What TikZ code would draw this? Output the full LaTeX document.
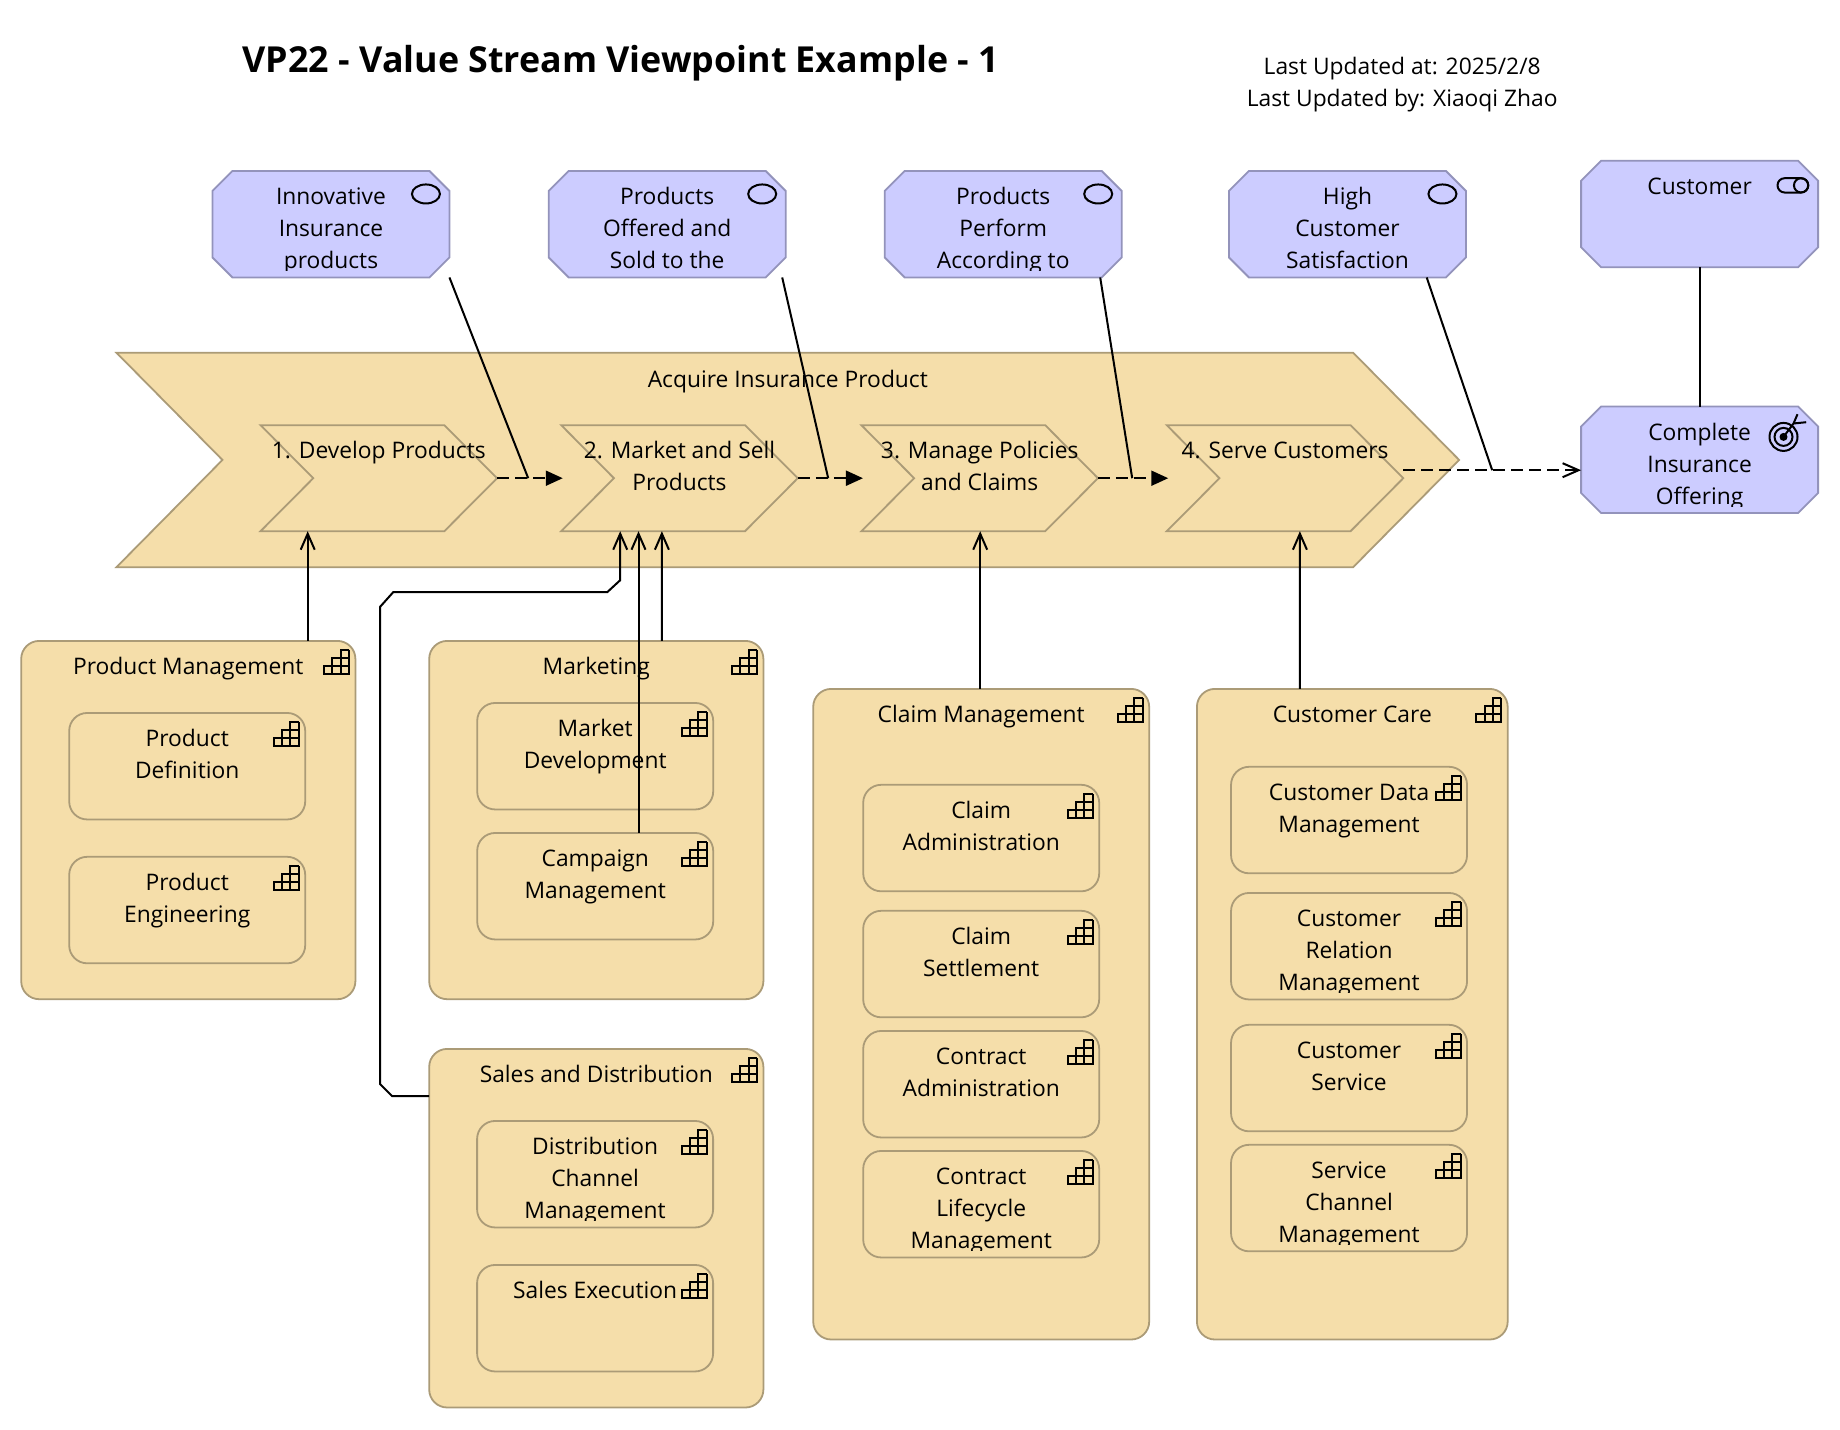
\documentclass[tikz,border=0pt]{standalone}
\usepackage{fontspec}
\setmainfont{Open Sans}
\usetikzlibrary{arrows.meta}
\definecolor{strategy}{HTML}{F5DEAA}
\definecolor{strategyline}{HTML}{AB9B77}
\definecolor{motiv}{HTML}{CCCCFF}
\definecolor{motivline}{HTML}{9393BB}
\tikzset{
    goalbox/.style={rectangle, minimum width=237pt, minimum height=106.5pt, inner sep=0pt, outer sep=0pt},
    goalline/.style={draw=motivline, fill=motiv, line width=1.8pt},
    groupbox/.style={rectangle, rounded corners=18pt, draw=strategyline, fill=strategy, line width=1.8pt, inner sep=0pt, outer sep=0pt},
    capbox/.style={groupbox, minimum width=236pt, minimum height=106.5pt},
    streambox/.style={rectangle, inner sep=0pt, outer sep=0pt},
    streamline/.style={draw=strategyline, fill=strategy, line width=1.8pt},
    lbl/.style={font=\fontsize{22.8}{32}\selectfont, align=center, inner sep=0pt, anchor=north},
    iconline/.style={draw=black, line width=2pt},
    assign/.style={draw=black, line width=2pt},
    serving/.style={assign, -{Straight Barb[length=16pt,width=14pt]}},
    flow/.style={assign, dash pattern=on 12pt off 6pt, -{Triangle[length=17pt,width=15pt]}},
    trigger/.style={assign, dash pattern=on 12pt off 6pt, -{Straight Barb[length=16pt,width=14pt]}},
}
\newcommand{\boxtext}[3][13.3pt]{%
    \begin{scope}
        \clip ([yshift=1pt]#2.north west) rectangle ([yshift=6.5pt]#2.south east);
        \node (#2text) at ([yshift=-#1]#2.north) [lbl] {\rule{0pt}{20pt}#3};
    \end{scope}}
\newcommand{\chevron}[2]{%
    \draw[streamline] (#1.north west) -- ([xshift=-#2]#1.north east) -- (#1.east) -- ([xshift=-#2]#1.south east) -- (#1.south west) -- ([xshift=#2]#1.west) -- cycle;}
\newcommand{\cutcorners}[1]{%
    \draw[goalline] ([xshift=20pt]#1.north west) -- ([xshift=-20pt]#1.north east) -- ([yshift=-20pt]#1.north east) -- ([yshift=20pt]#1.south east) -- ([xshift=-20pt]#1.south east) -- ([xshift=20pt]#1.south west) -- ([yshift=20pt]#1.south west) -- ([yshift=-20pt]#1.north west) -- cycle;}
\newcommand{\funcicon}[1]{%
    \begin{scope}[shift={([xshift=-6.5pt,yshift=-9pt]#1.north east)}]
        \draw[iconline] (0,0) -- (0,24) -- (-25,24) -- (-25,16) -- (0,16) (-16.7,24) -- (-16.7,8) -- (0,8) (-8.3,24) -- (-8.3,0) -- (0,0);
    \end{scope}}
\newcommand{\goalicon}[1]{%
    \draw[iconline] ([xshift=-23.5pt,yshift=-23pt]#1.north east) ellipse [x radius=14, y radius=9.5];}
\begin{document}
\begin{tikzpicture}[x=1pt, y=-1pt, shift={(0.2,0.2)}]
    \useasboundingbox (-0.2,-0.2) rectangle (1839.8,1429.8);

    \node (title) at (620.5,72) [anchor=base, inner sep=0pt, font=\fontsize{35.8}{40}\selectfont\bfseries] {VP22 - Value Stream Viewpoint Example - 1};
    \node (updatedat) at (1402,74) [anchor=base, inner sep=0pt, font=\fontsize{22.8}{32}\selectfont] {Last Updated at: 2025/2/8};
    \node (updatedby) at (1402,106) [anchor=base, inner sep=0pt, font=\fontsize{22.8}{32}\selectfont] {Last Updated by: Xiaoqi Zhao};

    \node (goalA) at (330.75,224) [goalbox] {};
    \node (goalB) at (667,224) [goalbox] {};
    \node (goalC) at (1003,224) [goalbox] {};
    \node (goalD) at (1347.25,224) [goalbox] {};
    \node (customer) at (1699.4,213.85) [goalbox] {};
    \node (complete) at (1699.4,459.6) [goalbox] {};

    \foreach \n in {goalA,goalB,goalC,goalD,customer,complete} {
        \cutcorners{\n}
    }

    \boxtext{goalA}{Innovative\\Insurance\\products}
    \boxtext{goalB}{Products\\Offered and\\Sold to the}
    \boxtext{goalC}{Products\\Perform\\According to}
    \boxtext{goalD}{High\\Customer\\Satisfaction}
    \boxtext{customer}{Customer}
    \boxtext{complete}{Complete\\Insurance\\Offering}

    \goalicon{goalA}
    \goalicon{goalB}
    \goalicon{goalC}
    \goalicon{goalD}

    \draw[iconline, rounded corners=7.1pt] (1777.3,178) rectangle (1808,192.3);
    \draw[iconline] (1800.9,185.15) circle [radius=7.15];

    \draw[iconline] (1783.3,436.7) circle [radius=14];
    \draw[iconline] (1783.3,436.7) circle [radius=9];
    \fill (1783.3,436.7) circle [radius=4];
    \draw[iconline] (1783.3,436.7) -- (1793.3,423.3) (1797.3,414) -- (1793.3,423.3) -- (1806,422);

    \node (stream) at (787.6,459.75) [streambox, minimum width=1342.7pt, minimum height=214.5pt] {};
    \chevron{stream}{106pt}
    \boxtext[14.3pt]{stream}{Acquire Insurance Product}

    \node (streamA) at (378.6,478) [streambox, minimum width=236.5pt, minimum height=106pt] {};
    \node (streamB) at (679.3,478) [streambox, minimum width=236.5pt, minimum height=106pt] {};
    \node (streamC) at (979.5,478) [streambox, minimum width=236.5pt, minimum height=106pt] {};
    \node (streamD) at (1284.8,478) [streambox, minimum width=236.5pt, minimum height=106pt] {};
    \chevron{streamA}{52.7pt}
    \chevron{streamB}{52.7pt}
    \chevron{streamC}{52.7pt}
    \chevron{streamD}{52.7pt}
    \boxtext{streamA}{1. Develop Products}
    \boxtext{streamB}{2. Market and Sell\\Products}
    \boxtext{streamC}{3. Manage Policies\\and Claims}
    \boxtext{streamD}{4. Serve Customers}

    \node (prodmgmt) at (188.1,819.85) [groupbox, minimum width=334.2pt, minimum height=358.3pt] {};
    \node (marketing) at (596.1,819.85) [groupbox, minimum width=334.2pt, minimum height=358.3pt] {};
    \node (sales) at (596.1,1228) [groupbox, minimum width=334.2pt, minimum height=358.6pt] {};
    \node (claims) at (981,1014) [groupbox, minimum width=336pt, minimum height=650.6pt] {};
    \node (care) at (1352.1,1014) [groupbox, minimum width=310.8pt, minimum height=650.6pt] {};

    \node (proddef) at (187,766) [capbox] {};
    \node (prodeng) at (187,909.85) [capbox] {};
    \node (marketdev) at (595,756) [capbox] {};
    \node (campaign) at (595,886) [capbox] {};
    \node (distchannel) at (594.9,1174) [capbox] {};
    \node (salesexec) at (594.9,1318) [capbox] {};
    \node (claimadmin) at (981,837.85) [capbox] {};
    \node (claimsettle) at (981,963.85) [capbox] {};
    \node (contractadmin) at (981,1084) [capbox] {};
    \node (lifecycle) at (981,1204) [capbox] {};
    \node (custdata) at (1348.85,819.85) [capbox] {};
    \node (custrel) at (1348.85,946) [capbox] {};
    \node (custservice) at (1348.85,1077.85) [capbox] {};
    \node (servchannel) at (1348.85,1197.85) [capbox] {};

    \boxtext{prodmgmt}{Product Management}
    \boxtext{marketing}{Marketing}
    \boxtext{sales}{Sales and Distribution}
    \boxtext{claims}{Claim Management}
    \boxtext{care}{Customer Care}
    \boxtext{proddef}{Product\\Definition}
    \boxtext{prodeng}{Product\\Engineering}
    \boxtext{marketdev}{Market\\Development}
    \boxtext{campaign}{Campaign\\Management}
    \boxtext{distchannel}{Distribution\\Channel\\Management}
    \boxtext{salesexec}{Sales Execution}
    \boxtext{claimadmin}{Claim\\Administration}
    \boxtext{claimsettle}{Claim\\Settlement}
    \boxtext{contractadmin}{Contract\\Administration}
    \boxtext{lifecycle}{Contract\\Lifecycle\\Management}
    \boxtext{custdata}{Customer Data\\Management}
    \boxtext{custrel}{Customer\\Relation\\Management}
    \boxtext{custservice}{Customer\\Service}
    \boxtext{servchannel}{Service\\Channel\\Management}

    \foreach \n in {prodmgmt,marketing,sales,claims,care,proddef,prodeng,marketdev,campaign,distchannel,salesexec,claimadmin,claimsettle,contractadmin,lifecycle,custdata,custrel,custservice,servchannel} {
        \funcicon{\n}
    }

    \coordinate (joinA) at (528,478);
    \coordinate (joinB) at (828,478);
    \coordinate (joinC) at (1132,478);
    \coordinate (joinD) at (1492,470);

    \draw[flow] (streamA.east) -- ([xshift=1.5pt]streamB.west);
    \draw[flow] (streamB.east) -- ([xshift=1.5pt]streamC.west);
    \draw[flow] (streamC.east) -- ([xshift=1.5pt]streamD.west);
    \draw[trigger] ([yshift=8pt]streamD.east) -- ([yshift=-10.4pt]complete.west);

    \draw[assign] ([xshift=118.5pt]goalA.south) -- (joinA);
    \draw[assign] ([xshift=115pt]goalB.south) -- (joinB);
    \draw[assign] ([xshift=97pt]goalC.south) -- (joinC);
    \draw[assign] ([xshift=79.25pt]goalD.south) -- (joinD);
    \draw[assign] (customer.south) -- (complete.north);

    \draw[serving] ([xshift=119.4pt]prodmgmt.north) -- ([xshift=-71.1pt]streamA.south);
    \draw[serving] ([xshift=65.6pt]marketing.north) -- ([xshift=-17.6pt]streamB.south);
    \draw[serving] ([xshift=43.3pt]campaign.north) -- ([xshift=-41pt]streamB.south);
    \draw[serving] ([yshift=-47.3pt]sales.north west) -- (392,1096) -- (380,1084) -- (380,606.5) -- (393,592) -- (607,592) -- (620,580) -- ([xshift=-59.3pt]streamB.south);
    \draw[serving] ([xshift=-1pt]claims.north) -- ([xshift=0.5pt]streamC.south);
    \draw[serving] ([xshift=-52.4pt]care.north) -- ([xshift=14.9pt]streamD.south);
\end{tikzpicture}
\end{document}
